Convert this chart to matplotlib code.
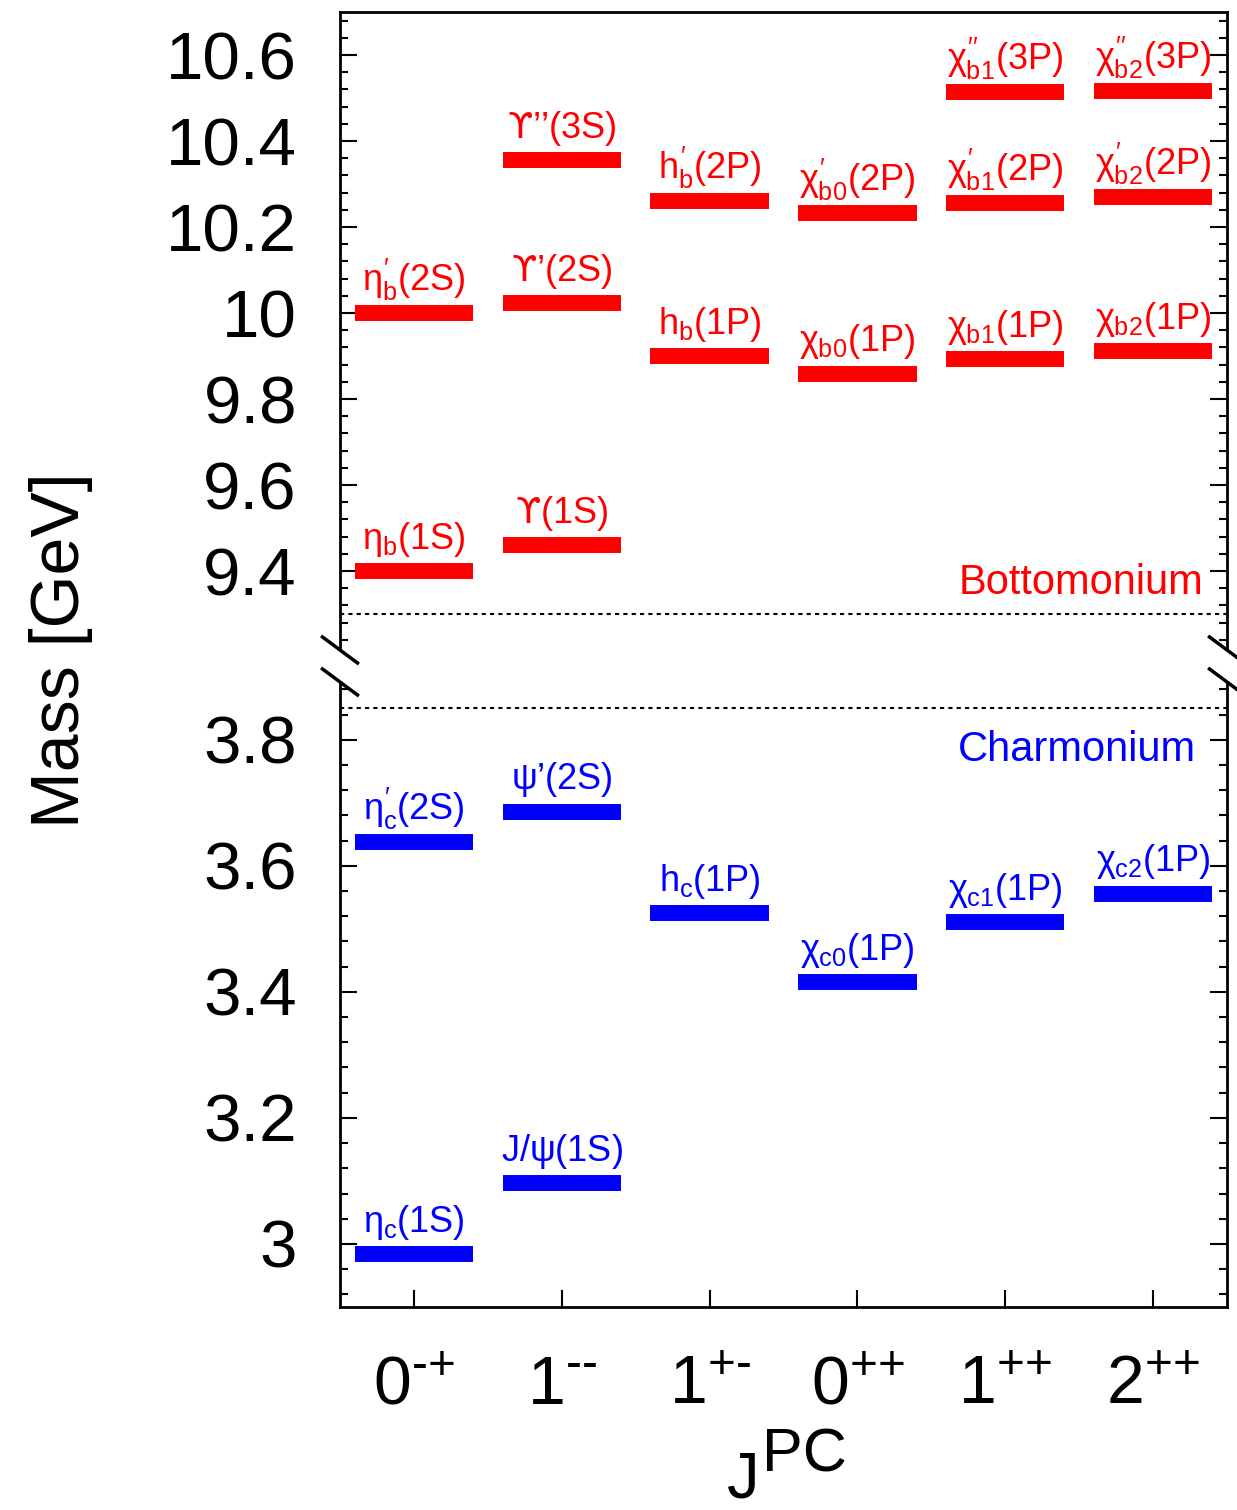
import matplotlib
matplotlib.use("Agg")
import matplotlib.pyplot as plt
from matplotlib.lines import Line2D
from matplotlib.ticker import MultipleLocator, FormatStrFormatter

plt.rcParams['font.family'] = ['Liberation Sans', 'DejaVu Sans']
plt.rcParams['mathtext.fontset'] = 'custom'
plt.rcParams['mathtext.rm'] = 'Liberation Sans'
plt.rcParams['mathtext.it'] = 'Liberation Sans'
plt.rcParams['mathtext.bf'] = 'Liberation Sans:bold'
plt.rcParams['mathtext.sf'] = 'DejaVu Sans'

# J^PC columns
jpc_labels = [r'$\mathregular{0^{\text{-+}}}$', r'$\mathregular{1^{\text{--}}}$',
              r'$\mathregular{1^{\text{+-}}}$', r'$\mathregular{0^{\text{++}}}$',
              r'$\mathregular{1^{\text{++}}}$', r'$\mathregular{2^{\text{++}}}$']

# bottomonium states (column index, mass in GeV, name)
bb_col = [0, 0, 1, 1, 1, 2, 2, 3, 3, 4, 4, 4, 5, 5, 5]
bb_mass = [9.399, 9.999, 9.460, 10.023, 10.355, 9.899, 10.260, 9.859, 10.232,
           9.893, 10.255, 10.513, 9.912, 10.269, 10.516]
bb_names = [r'$\eta_{b}$(1S)', r'$\eta_{b}^{\prime}$(2S)', r'$\mathsf{ϒ}$(1S)',
            r'$\mathsf{ϒ}$’(2S)', r'$\mathsf{ϒ}$’’(3S)',
            r'$h_{b}$(1P)', r'$h_{b}^{\prime}$(2P)', r'$\chi_{b0}$(1P)', r'$\chi_{b0}^{\prime}$(2P)',
            r'$\chi_{b1}$(1P)', r'$\chi_{b1}^{\prime}$(2P)', r'$\chi_{b1}^{\prime\prime}$(3P)',
            r'$\chi_{b2}$(1P)', r'$\chi_{b2}^{\prime}$(2P)', r'$\chi_{b2}^{\prime\prime}$(3P)']

# charmonium states
cc_col = [0, 0, 1, 1, 2, 3, 4, 5]
cc_mass = [2.984, 3.638, 3.097, 3.686, 3.525, 3.415, 3.511, 3.556]
cc_names = [r'$\eta_{c}$(1S)', r'$\eta_{c}^{\prime}$(2S)', r'J/$\psi$(1S)', r'$\psi$’(2S)',
            r'$h_{c}$(1P)', r'$\chi_{c0}$(1P)', r'$\chi_{c1}$(1P)', r'$\chi_{c2}$(1P)']

W, H = 1237, 1510
fig = plt.figure(figsize=(W / 100, H / 100), dpi=100)
L, R = 340 / W, 1227 / W
ax_top = fig.add_axes([L, 1 - 648 / H, R - L, (648 - 12) / H])
ax_bot = fig.add_axes([L, 1 - 1307 / H, R - L, (1307 - 683) / H])

ax_top.set_ylim(9.221, 10.7)
ax_bot.set_ylim(2.9, 3.89)


def draw_levels(ax, cols, masses, names, color):
    ax.hlines(masses, [c - 0.4 for c in cols], [c + 0.4 for c in cols],
              colors=color, lw=11.5, capstyle='butt')
    for c, m, n in zip(cols, masses, names):
        ax.annotate(n, (c, m), xytext=(0, 16), textcoords='offset points',
                    ha='center', va='baseline', color=color, fontsize=26)


draw_levels(ax_top, bb_col, bb_mass, bb_names, 'red')
draw_levels(ax_bot, cc_col, cc_mass, cc_names, 'blue')

ax_top.axhline(9.3, color='k', ls=(0, (2, 2)), lw=1.5)
ax_bot.axhline(3.85, color='k', ls=(0, (2, 2)), lw=1.5)

ax_top.text(5.34, 9.347, 'Bottomonium', ha='right', va='baseline', color='red', fontsize=30)
ax_bot.text(5.29, 3.767, 'Charmonium', ha='right', va='baseline', color='blue', fontsize=30)

for ax in (ax_top, ax_bot):
    ax.set_xlim(-0.5, 5.5)
    for s in ax.spines.values():
        s.set_linewidth(2.0)
    ax.yaxis.set_major_locator(MultipleLocator(0.2))
    ax.yaxis.set_minor_locator(MultipleLocator(0.04))
    ax.yaxis.set_major_formatter(FormatStrFormatter('%g'))
    ax.tick_params(axis='y', which='both', direction='in', left=True, right=True,
                   width=1.5, labelsize=48.5, pad=31)
    ax.tick_params(axis='y', which='major', length=12)
    ax.tick_params(axis='y', which='minor', length=6)

ax_top.spines['bottom'].set_visible(False)
ax_bot.spines['top'].set_visible(False)
ax_top.tick_params(axis='x', which='both', bottom=False, top=False, labelbottom=False)

ax_bot.set_xticks(range(len(jpc_labels)))
ax_bot.set_xticklabels(jpc_labels)
ax_bot.tick_params(axis='x', which='both', direction='in', top=False, length=12,
                   width=1.5, labelsize=49, pad=34)
ax_bot.xaxis.set_minor_locator(plt.NullLocator())

# break marks
for xc in (340, 1227):
    for yc in (650, 682):
        fig.add_artist(Line2D([(xc - 17.5) / W, (xc + 17.5) / W],
                              [1 - (yc - 13) / H, 1 - (yc + 13) / H],
                              color='k', lw=2.5, transform=fig.transFigure,
                              clip_on=False))

fig.text(61 / W, 1 - 650 / H, 'Mass [GeV]', rotation=90, ha='center', va='center',
         fontsize=49)
fig.text(727 / W, 1 - 1497 / H, 'J', ha='left', va='baseline', fontsize=47)
fig.text(762 / W, 1 - 1472 / H, 'PC', ha='left', va='baseline', fontsize=44)

fig.savefig('out.png', dpi=100)
